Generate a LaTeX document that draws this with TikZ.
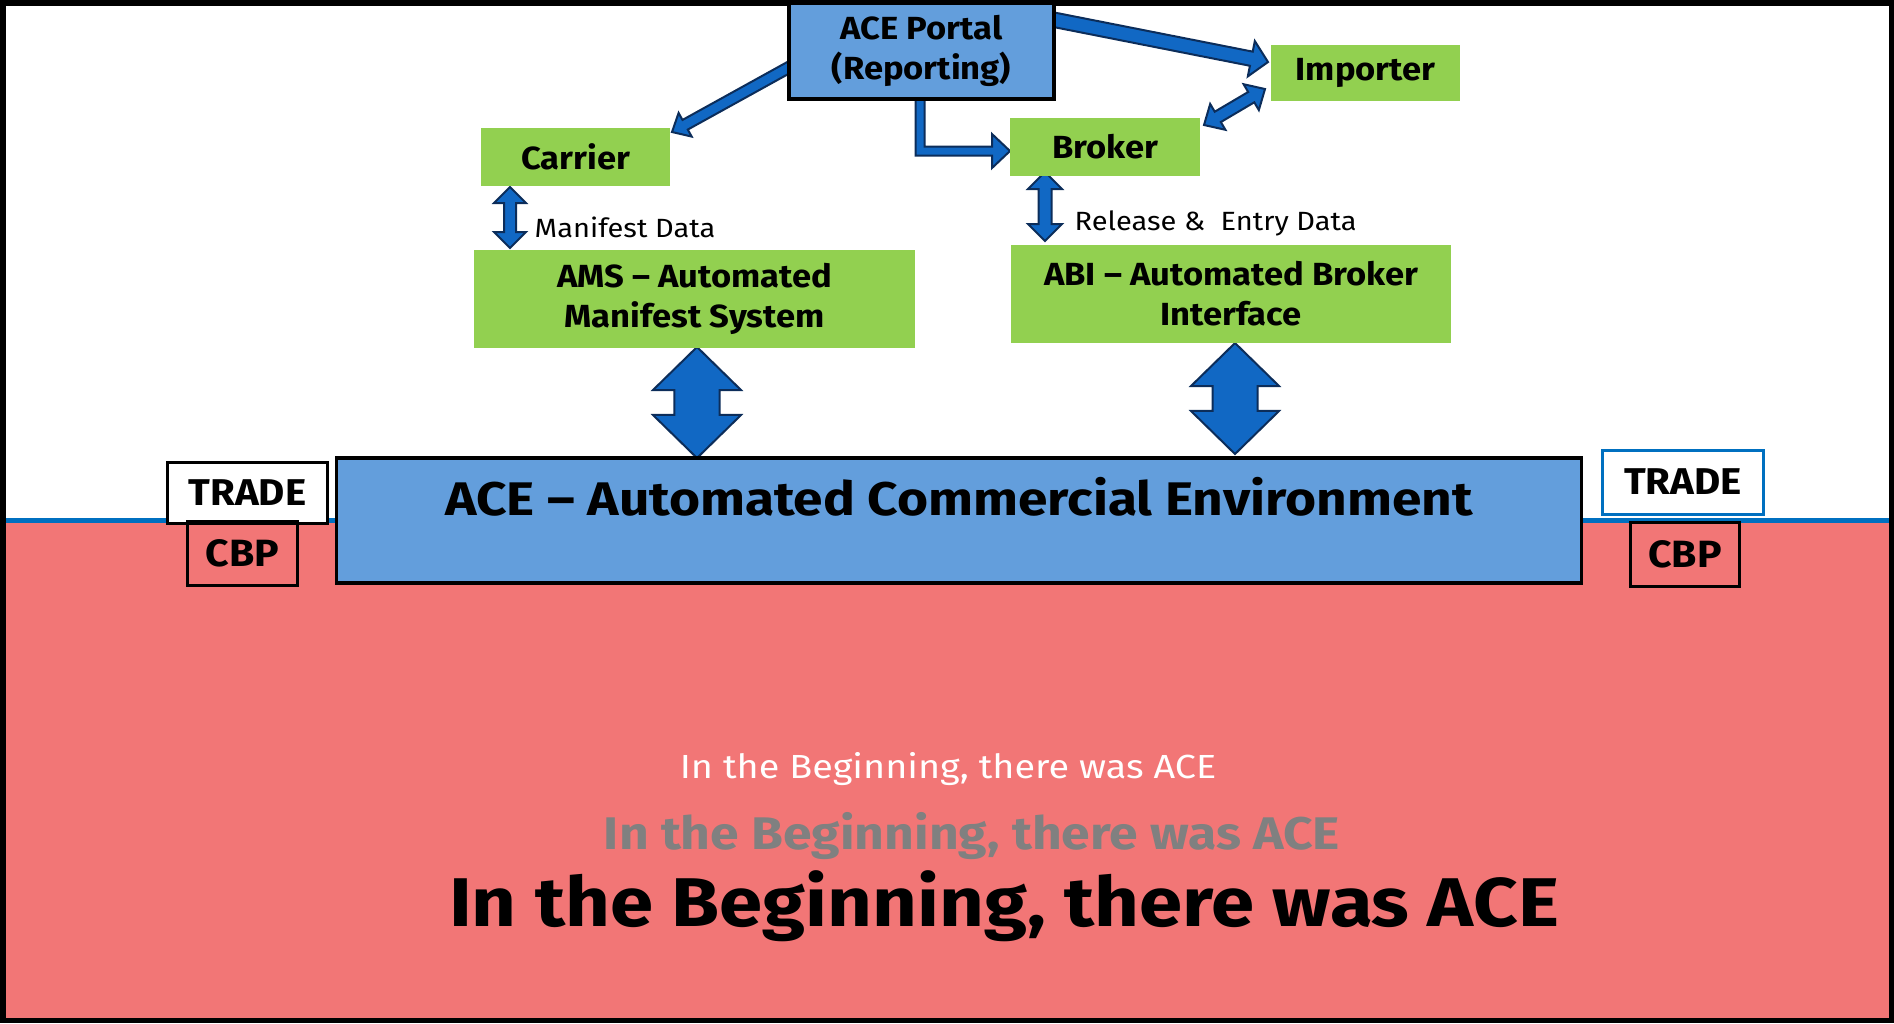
\documentclass[tikz,border=0pt]{standalone}
\usepackage{fontspec}
\setmainfont{Fira Sans}[FakeStretch=1.08]
\newfontfamily\widefam{Fira Sans}[FakeStretch=1.13]
\newfontfamily\lblfam{Fira Sans}[FakeStretch=1.1]
\usetikzlibrary{calc}
\definecolor{boxgreen}{RGB}{146,208,80}
\definecolor{boxblue}{RGB}{99,158,220}
\definecolor{arrfill}{RGB}{17,104,196}
\definecolor{arrline}{RGB}{12,45,90}
\definecolor{horizon}{RGB}{0,112,192}
\definecolor{ground}{RGB}{242,118,118}
\definecolor{shadowgrey}{RGB}{128,128,128}
% single block arrow: #1 from, #2 to, #3 shaft half width, #4 head half width, #5 head length
\newcommand\mysinglearrow[5]{%
  \filldraw[blockarr] ($(#1)!#3!90:(#2)$) -- ($(#2)!#5!(#1)!#3!-90:(#1)$) -- ($(#2)!#5!(#1)!#4!-90:(#1)$) -- (#2)
   -- ($(#2)!#5!(#1)!#4!90:(#1)$) -- ($(#2)!#5!(#1)!#3!90:(#1)$) -- ($(#1)!#3!-90:(#2)$) -- cycle;}
% double block arrow
\newcommand\mydoublearrow[5]{%
  \filldraw[blockarr] (#1) -- ($(#1)!#5!(#2)!#4!90:(#2)$) -- ($(#1)!#5!(#2)!#3!90:(#2)$)
   -- ($(#2)!#5!(#1)!#3!-90:(#1)$) -- ($(#2)!#5!(#1)!#4!-90:(#1)$) -- (#2)
   -- ($(#2)!#5!(#1)!#4!90:(#1)$) -- ($(#2)!#5!(#1)!#3!90:(#1)$)
   -- ($(#1)!#5!(#2)!#3!-90:(#2)$) -- ($(#1)!#5!(#2)!#4!-90:(#2)$) -- cycle;}
\begin{document}
\begin{tikzpicture}[x=0.01cm,y=-0.01cm,
  greenbox/.style={fill=boxgreen, draw=none, inner sep=0pt, align=center, font=\fontsize{9.1}{11.4}\selectfont\bfseries},
  bluebox/.style={fill=boxblue, draw=black, line width=0.35mm, inner sep=0pt, align=center},
  tagbox/.style={draw=black, line width=0.3mm, inner sep=0pt, font=\bfseries},
  blockarr/.style={fill=arrfill, draw=arrline, line width=0.2mm, line join=miter},
  lbl/.style={inner sep=0pt, anchor=west, font=\lblfam\fontsize{7.5}{9}\selectfont}]
\useasboundingbox (0,0) rectangle (1894,1023);
% ground
\fill[ground] (0,520) rectangle (1894,1023);
\draw[horizon, line width=0.5mm] (0,520) -- (1894,520);
% frame
\draw[black, line width=0.55mm] (2.75,2.75) rectangle (1891.25,1020.25);

% named coordinates for connectors
\coordinate (pcA) at (795,64);   \coordinate (pcB) at (672,132);
\coordinate (piA) at (1040,17);  \coordinate (piB) at (1268,62);
\coordinate (ibA) at (1265,89);  \coordinate (ibB) at (1204,125);
\coordinate (caA) at (510,187);  \coordinate (caB) at (510,248);
\coordinate (baA) at (1045,172); \coordinate (baB) at (1045,241);
\coordinate (amA) at (697,347);  \coordinate (amB) at (697,458);
\coordinate (abA) at (1235,343); \coordinate (abB) at (1235,454);

% arrows
\mysinglearrow{pcA}{pcB}{0.55mm}{1.35mm}{1.5mm}
\mysinglearrow{piA}{piB}{0.72mm}{1.8mm}{1.7mm}
\mydoublearrow{ibA}{ibB}{0.6mm}{1.5mm}{1.6mm}
\mydoublearrow{caA}{caB}{0.6mm}{1.6mm}{1.6mm}
\mydoublearrow{baA}{baB}{0.65mm}{1.7mm}{1.7mm}
\mydoublearrow{amA}{amB}{2.25mm}{4.4mm}{4.3mm}
\mydoublearrow{abA}{abB}{2.25mm}{4.4mm}{4.3mm}
% elbow arrow portal -> broker
\coordinate (pbA) at (920,97);
\filldraw[blockarr] ($(pbA)+(-4.5,0)$) |- (992,155.5) -- (992,168) -- (1010,151) -- (992,134) -- (992,146.5) -| ($(pbA)+(4.5,0)$) -- cycle;

% boxes
\node[bluebox, minimum width=26.5mm, minimum height=9.6mm, font=\fontsize{9.1}{11.4}\selectfont\bfseries] (portal) at (921.5,51) {ACE Portal\\(Reporting)};
\node[greenbox, minimum width=18.9mm, minimum height=5.6mm] (importer) at (1365.5,73) {Importer};
\node[greenbox, minimum width=19mm, minimum height=5.8mm] (broker) at (1105,147) {Broker};
\node[greenbox, minimum width=18.9mm, minimum height=5.8mm] (carrier) at (575.5,157) {Carrier};
\node[greenbox, minimum width=44.1mm, minimum height=9.8mm] (ams) at (694.5,299) {AMS – Automated\\Manifest System};
\node[greenbox, minimum width=44mm, minimum height=9.8mm] (abi) at (1231,294) {ABI – Automated Broker\\Interface};

\node[lbl] (manlbl) at (534,227) {Manifest Data};
\node[lbl] (rellbl) at (1074,223) {Release \& \ Entry Data};

% trade / cbp tags
\node[tagbox, fill=white, minimum width=15.9mm, minimum height=6.1mm, font=\fontsize{10.6}{12}\selectfont\bfseries] (tradeL) at (247.5,492.5) {TRADE};
\node[tagbox, minimum width=10.9mm, minimum height=6.4mm, font=\fontsize{10.8}{12}\selectfont\bfseries] (cbpL) at (242.5,553) {CBP};
\node[tagbox, draw=horizon, fill=white, minimum width=16mm, minimum height=6.4mm, font=\fontsize{10.6}{12}\selectfont\bfseries] (tradeR) at (1683,482) {TRADE};
\node[tagbox, minimum width=10.8mm, minimum height=6.4mm, font=\fontsize{10.8}{12}\selectfont\bfseries] (cbpR) at (1685,554) {CBP};

% ACE main
\node[bluebox, minimum width=124.4mm, minimum height=12.5mm] (ace) at (959,520.5) {};
\node[inner sep=0pt, font=\widefam\fontsize{13.4}{15}\selectfont\bfseries] (acetext) at (959,497) {ACE – Automated Commercial Environment};

% bottom titles
\node[inner sep=0pt, text=white, font=\widefam\fontsize{9.5}{11}\selectfont] (t1) at (948,769) {In the Beginning, there was ACE};
\node[inner sep=0pt, text=shadowgrey, font=\widefam\fontsize{13}{15}\selectfont\bfseries] (t2) at (972,836) {In the Beginning, there was ACE};
\node[inner sep=0pt, text=black, font=\widefam\fontsize{19.6}{22}\selectfont\bfseries] (t3) at (1004,906) {In the Beginning, there was ACE};
\end{tikzpicture}
\end{document}
